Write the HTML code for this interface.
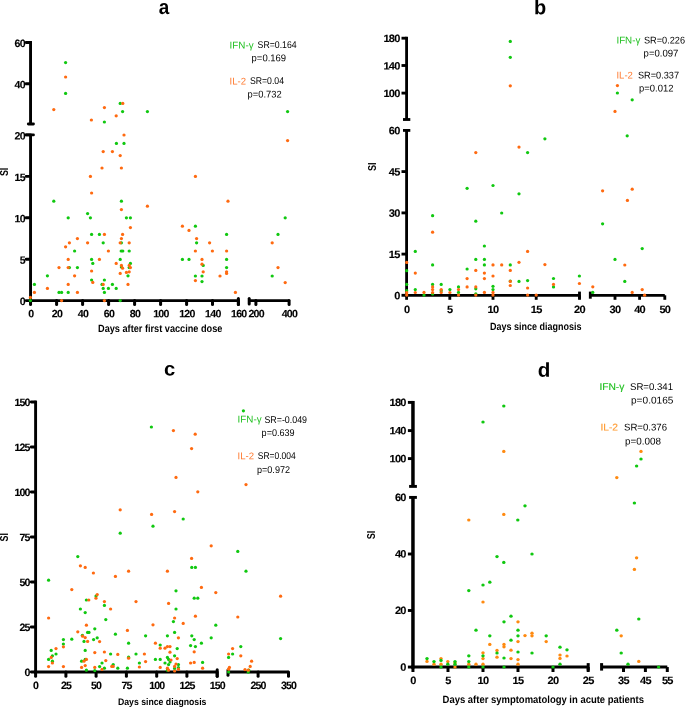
<!DOCTYPE html>
<html lang="en">
<head>
<meta charset="utf-8">
<title>SI scatter plots</title>
<style>
html,body{margin:0;padding:0;background:#fff;}
body{width:685px;height:707px;overflow:hidden;}
svg{display:block;}
svg text{font-family:"Liberation Sans",sans-serif;}
</style>
</head>
<body>
<svg width="685" height="707" viewBox="0 0 685 707">
<rect x="0" y="0" width="685" height="707" fill="#ffffff"/>
<g stroke="#000" fill="none">
<line x1="30.55" y1="41.05" x2="30.55" y2="124" stroke-width="2.9"/>
<line x1="30.55" y1="134.9" x2="30.55" y2="302" stroke-width="2.9"/>
<line x1="28.35" y1="124" x2="33.45" y2="124" stroke-width="2.9" stroke-linecap="round"/>
<line x1="26.15" y1="134.9" x2="33.45" y2="134.9" stroke-width="2.9" stroke-linecap="round"/>
<line x1="26.15" y1="42.5" x2="30.55" y2="42.5" stroke-width="2.9" stroke-linecap="round"/>
<line x1="26.15" y1="83.7" x2="30.55" y2="83.7" stroke-width="2.9" stroke-linecap="round"/>
<line x1="26.15" y1="134.9" x2="30.55" y2="134.9" stroke-width="2.9" stroke-linecap="round"/>
<line x1="26.15" y1="176.4" x2="30.55" y2="176.4" stroke-width="2.9" stroke-linecap="round"/>
<line x1="26.15" y1="217.8" x2="30.55" y2="217.8" stroke-width="2.9" stroke-linecap="round"/>
<line x1="26.15" y1="259.2" x2="30.55" y2="259.2" stroke-width="2.9" stroke-linecap="round"/>
<line x1="26.15" y1="300.6" x2="30.55" y2="300.6" stroke-width="2.9" stroke-linecap="round"/>
<line x1="29.1" y1="300.6" x2="238.4" y2="300.6" stroke-width="2.8"/>
<line x1="249.2" y1="300.6" x2="289.1" y2="300.6" stroke-width="2.8"/>
<line x1="238.4" y1="298.4" x2="238.4" y2="304.6" stroke-width="3" stroke-linecap="round"/>
<line x1="249.2" y1="298.4" x2="249.2" y2="304" stroke-width="3" stroke-linecap="round"/>
<line x1="30.55" y1="300.6" x2="30.55" y2="304.5" stroke-width="3" stroke-linecap="round"/>
<line x1="56.6" y1="300.6" x2="56.6" y2="304.5" stroke-width="3" stroke-linecap="round"/>
<line x1="82.6" y1="300.6" x2="82.6" y2="304.5" stroke-width="3" stroke-linecap="round"/>
<line x1="108.6" y1="300.6" x2="108.6" y2="304.5" stroke-width="3" stroke-linecap="round"/>
<line x1="134.6" y1="300.6" x2="134.6" y2="304.5" stroke-width="3" stroke-linecap="round"/>
<line x1="160.6" y1="300.6" x2="160.6" y2="304.5" stroke-width="3" stroke-linecap="round"/>
<line x1="186.6" y1="300.6" x2="186.6" y2="304.5" stroke-width="3" stroke-linecap="round"/>
<line x1="212.5" y1="300.6" x2="212.5" y2="304.5" stroke-width="3" stroke-linecap="round"/>
<line x1="238.4" y1="300.6" x2="238.4" y2="304.5" stroke-width="3" stroke-linecap="round"/>
<line x1="255.9" y1="300.6" x2="255.9" y2="304.5" stroke-width="3" stroke-linecap="round"/>
<line x1="289.1" y1="300.6" x2="289.1" y2="304.5" stroke-width="3" stroke-linecap="round"/>
</g>
<g fill="#000">
<text transform="translate(14.55 47) rotate(0.03) scale(1.0 1)" font-size="10.6" font-weight="bold" letter-spacing="-0.74" stroke="#000" stroke-width="0.12">60</text>
<text transform="translate(14.55 88.2) rotate(0.03) scale(1.0 1)" font-size="10.6" font-weight="bold" letter-spacing="-0.74" stroke="#000" stroke-width="0.12">40</text>
<text transform="translate(14.55 139.4) rotate(0.03) scale(1.0 1)" font-size="10.6" font-weight="bold" letter-spacing="-0.74" stroke="#000" stroke-width="0.12">20</text>
<text transform="translate(14.55 180.9) rotate(0.03) scale(1.0 1)" font-size="10.6" font-weight="bold" letter-spacing="-0.74" stroke="#000" stroke-width="0.12">15</text>
<text transform="translate(14.55 222.3) rotate(0.03) scale(1.0 1)" font-size="10.6" font-weight="bold" letter-spacing="-0.74" stroke="#000" stroke-width="0.12">10</text>
<text transform="translate(19.7 263.7) rotate(0.03) scale(1.0 1)" font-size="10.6" font-weight="bold" letter-spacing="-0.74" stroke="#000" stroke-width="0.12">5</text>
<text transform="translate(19.7 305.1) rotate(0.03) scale(1.0 1)" font-size="10.6" font-weight="bold" letter-spacing="-0.74" stroke="#000" stroke-width="0.12">0</text>
<text transform="translate(28.28 317.3) rotate(0.03) scale(1.0 1)" font-size="10.6" font-weight="bold" letter-spacing="-0.74" stroke="#000" stroke-width="0.12">0</text>
<text transform="translate(51.75 317.3) rotate(0.03) scale(1.0 1)" font-size="10.6" font-weight="bold" letter-spacing="-0.74" stroke="#000" stroke-width="0.12">20</text>
<text transform="translate(77.75 317.3) rotate(0.03) scale(1.0 1)" font-size="10.6" font-weight="bold" letter-spacing="-0.74" stroke="#000" stroke-width="0.12">40</text>
<text transform="translate(103.75 317.3) rotate(0.03) scale(1.0 1)" font-size="10.6" font-weight="bold" letter-spacing="-0.74" stroke="#000" stroke-width="0.12">60</text>
<text transform="translate(129.75 317.3) rotate(0.03) scale(1.0 1)" font-size="10.6" font-weight="bold" letter-spacing="-0.74" stroke="#000" stroke-width="0.12">80</text>
<text transform="translate(153.18 317.3) rotate(0.03) scale(1.0 1)" font-size="10.6" font-weight="bold" letter-spacing="-0.74" stroke="#000" stroke-width="0.12">100</text>
<text transform="translate(179.18 317.3) rotate(0.03) scale(1.0 1)" font-size="10.6" font-weight="bold" letter-spacing="-0.74" stroke="#000" stroke-width="0.12">120</text>
<text transform="translate(205.08 317.3) rotate(0.03) scale(1.0 1)" font-size="10.6" font-weight="bold" letter-spacing="-0.74" stroke="#000" stroke-width="0.12">140</text>
<text transform="translate(230.98 317.3) rotate(0.03) scale(1.0 1)" font-size="10.6" font-weight="bold" letter-spacing="-0.74" stroke="#000" stroke-width="0.12">160</text>
<text transform="translate(248.47 317.3) rotate(0.03) scale(1.0 1)" font-size="10.6" font-weight="bold" letter-spacing="-0.74" stroke="#000" stroke-width="0.12">200</text>
<text transform="translate(281.68 317.3) rotate(0.03) scale(1.0 1)" font-size="10.6" font-weight="bold" letter-spacing="-0.74" stroke="#000" stroke-width="0.12">400</text>
</g>
<text transform="translate(164 14.4) rotate(0.03)" font-size="20.5" text-anchor="middle" font-weight="bold" textLength="10.5" lengthAdjust="spacingAndGlyphs">a</text>
<text transform="translate(7.8 171.9) rotate(-90)" font-size="10.2" text-anchor="middle" font-weight="bold" textLength="8.4" lengthAdjust="spacingAndGlyphs">SI</text>
<text transform="translate(160.2 332.2) rotate(0.03)" font-size="10.5" text-anchor="middle" font-weight="bold" textLength="124.4" lengthAdjust="spacingAndGlyphs">Days after first vaccine dose</text>
<text transform="translate(229.6 48.4) rotate(0.03)" font-size="9.8" fill="#22c022" textLength="24" lengthAdjust="spacingAndGlyphs">IFN-γ</text>
<text transform="translate(257.6 48.4) rotate(0.03)" font-size="9.8" textLength="39" lengthAdjust="spacingAndGlyphs">SR=0.164</text>
<text transform="translate(251.6 61.2) rotate(0.03)" font-size="9.8" textLength="34.5" lengthAdjust="spacingAndGlyphs">p=0.169</text>
<text transform="translate(229.6 84.4) rotate(0.03)" font-size="9.8" fill="#ff7a30" textLength="16.5" lengthAdjust="spacingAndGlyphs">IL-2</text>
<text transform="translate(250 84.4) rotate(0.03)" font-size="9.8" textLength="34" lengthAdjust="spacingAndGlyphs">SR=0.04</text>
<text transform="translate(247.6 97.4) rotate(0.03)" font-size="9.8" textLength="34" lengthAdjust="spacingAndGlyphs">p=0.732</text>
<g fill="#10c810">
<circle cx="65.6" cy="62.6" r="1.62"/>
<circle cx="65.6" cy="93.4" r="1.62"/>
<circle cx="104.4" cy="122" r="1.62"/>
<circle cx="120.2" cy="103.4" r="1.62"/>
<circle cx="122.6" cy="111.6" r="1.62"/>
<circle cx="147.4" cy="111.6" r="1.62"/>
<circle cx="287.6" cy="111.6" r="1.62"/>
<circle cx="116.4" cy="143.4" r="1.62"/>
<circle cx="124" cy="143.4" r="1.62"/>
<circle cx="53.8" cy="201.2" r="1.62"/>
<circle cx="121.4" cy="201.2" r="1.62"/>
<circle cx="87.6" cy="213.6" r="1.62"/>
<circle cx="68.2" cy="217.8" r="1.62"/>
<circle cx="90.4" cy="217.8" r="1.62"/>
<circle cx="126.4" cy="217.8" r="1.62"/>
<circle cx="130.4" cy="217.8" r="1.62"/>
<circle cx="91.6" cy="234.4" r="1.62"/>
<circle cx="99.4" cy="234.4" r="1.62"/>
<circle cx="103.2" cy="242.8" r="1.62"/>
<circle cx="121.4" cy="242.8" r="1.62"/>
<circle cx="74.6" cy="251" r="1.62"/>
<circle cx="121.2" cy="251" r="1.62"/>
<circle cx="122.8" cy="251" r="1.62"/>
<circle cx="129.2" cy="251" r="1.62"/>
<circle cx="91.6" cy="259.4" r="1.62"/>
<circle cx="120.2" cy="259.4" r="1.62"/>
<circle cx="92.8" cy="263.4" r="1.62"/>
<circle cx="130.4" cy="263.4" r="1.62"/>
<circle cx="69.4" cy="267.6" r="1.62"/>
<circle cx="77.4" cy="267.6" r="1.62"/>
<circle cx="121.4" cy="267" r="1.62"/>
<circle cx="129.2" cy="267.6" r="1.62"/>
<circle cx="47.4" cy="275.8" r="1.62"/>
<circle cx="128" cy="275.8" r="1.62"/>
<circle cx="91.6" cy="280" r="1.62"/>
<circle cx="104.4" cy="280" r="1.62"/>
<circle cx="195.4" cy="226.2" r="1.62"/>
<circle cx="226.6" cy="234.4" r="1.62"/>
<circle cx="196.6" cy="242.8" r="1.62"/>
<circle cx="182.4" cy="259.4" r="1.62"/>
<circle cx="189" cy="259.4" r="1.62"/>
<circle cx="226.6" cy="259.4" r="1.62"/>
<circle cx="203.2" cy="265.4" r="1.62"/>
<circle cx="226.6" cy="267.6" r="1.62"/>
<circle cx="195.4" cy="276" r="1.62"/>
<circle cx="202" cy="276" r="1.62"/>
<circle cx="272.2" cy="276" r="1.62"/>
<circle cx="202" cy="281.6" r="1.62"/>
<circle cx="285.2" cy="217.8" r="1.62"/>
<circle cx="278" cy="234.4" r="1.62"/>
<circle cx="34.4" cy="284.4" r="1.62"/>
<circle cx="102" cy="284.4" r="1.62"/>
<circle cx="112.4" cy="284.4" r="1.62"/>
<circle cx="103.2" cy="288.4" r="1.62"/>
<circle cx="108.4" cy="288.4" r="1.62"/>
<circle cx="116.2" cy="288.4" r="1.62"/>
<circle cx="59" cy="292.4" r="1.62"/>
<circle cx="61.6" cy="292.4" r="1.62"/>
<circle cx="68.2" cy="292.4" r="1.62"/>
<circle cx="104.4" cy="292.4" r="1.62"/>
<circle cx="30.4" cy="300.6" r="1.62"/>
<circle cx="120.2" cy="300.6" r="1.62"/>
</g>
<g fill="#ff6a10">
<circle cx="65.6" cy="77" r="1.62"/>
<circle cx="53.8" cy="109.6" r="1.62"/>
<circle cx="104.4" cy="107.6" r="1.62"/>
<circle cx="91.4" cy="120" r="1.62"/>
<circle cx="116.2" cy="115.8" r="1.62"/>
<circle cx="122.8" cy="103.4" r="1.62"/>
<circle cx="124" cy="135" r="1.62"/>
<circle cx="287.6" cy="140.6" r="1.62"/>
<circle cx="103.2" cy="151.6" r="1.62"/>
<circle cx="112.4" cy="151.6" r="1.62"/>
<circle cx="120.2" cy="155.6" r="1.62"/>
<circle cx="102" cy="168" r="1.62"/>
<circle cx="121.4" cy="168" r="1.62"/>
<circle cx="90.4" cy="176.4" r="1.62"/>
<circle cx="91.6" cy="193" r="1.62"/>
<circle cx="121.4" cy="209.6" r="1.62"/>
<circle cx="130.4" cy="227.6" r="1.62"/>
<circle cx="104.4" cy="234.4" r="1.62"/>
<circle cx="122.6" cy="234.4" r="1.62"/>
<circle cx="77.4" cy="238.6" r="1.62"/>
<circle cx="121.4" cy="238.6" r="1.62"/>
<circle cx="69.4" cy="242.8" r="1.62"/>
<circle cx="87.6" cy="242.8" r="1.62"/>
<circle cx="120.2" cy="242.8" r="1.62"/>
<circle cx="129.2" cy="242.8" r="1.62"/>
<circle cx="65.6" cy="246.8" r="1.62"/>
<circle cx="108.4" cy="251" r="1.62"/>
<circle cx="68.2" cy="259.4" r="1.62"/>
<circle cx="99.4" cy="259.4" r="1.62"/>
<circle cx="116.2" cy="263.4" r="1.62"/>
<circle cx="121.4" cy="265.4" r="1.62"/>
<circle cx="129.2" cy="265.4" r="1.62"/>
<circle cx="59" cy="267.6" r="1.62"/>
<circle cx="68.2" cy="267.6" r="1.62"/>
<circle cx="122.6" cy="268.2" r="1.62"/>
<circle cx="130.4" cy="267.6" r="1.62"/>
<circle cx="91.6" cy="271" r="1.62"/>
<circle cx="126.4" cy="272.4" r="1.62"/>
<circle cx="129.2" cy="271.8" r="1.62"/>
<circle cx="120.2" cy="273.4" r="1.62"/>
<circle cx="74.6" cy="275.8" r="1.62"/>
<circle cx="92.8" cy="282.4" r="1.62"/>
<circle cx="195.4" cy="176.4" r="1.62"/>
<circle cx="228" cy="201.2" r="1.62"/>
<circle cx="147.4" cy="206.2" r="1.62"/>
<circle cx="182.4" cy="226.2" r="1.62"/>
<circle cx="189" cy="230.4" r="1.62"/>
<circle cx="196.6" cy="238.6" r="1.62"/>
<circle cx="209.6" cy="242.8" r="1.62"/>
<circle cx="272.2" cy="242.8" r="1.62"/>
<circle cx="195.4" cy="251" r="1.62"/>
<circle cx="212.4" cy="251" r="1.62"/>
<circle cx="226.6" cy="251" r="1.62"/>
<circle cx="202" cy="259.4" r="1.62"/>
<circle cx="202" cy="264.2" r="1.62"/>
<circle cx="203.2" cy="271.8" r="1.62"/>
<circle cx="226.6" cy="271.8" r="1.62"/>
<circle cx="226.6" cy="273.4" r="1.62"/>
<circle cx="220" cy="276" r="1.62"/>
<circle cx="195.4" cy="280.6" r="1.62"/>
<circle cx="278" cy="267.6" r="1.62"/>
<circle cx="285.2" cy="282.6" r="1.62"/>
<circle cx="68.2" cy="284.4" r="1.62"/>
<circle cx="103.2" cy="284.4" r="1.62"/>
<circle cx="128" cy="284.4" r="1.62"/>
<circle cx="47.4" cy="288.4" r="1.62"/>
<circle cx="34.4" cy="292.4" r="1.62"/>
<circle cx="77.4" cy="292.4" r="1.62"/>
<circle cx="30.4" cy="297.4" r="1.62"/>
<circle cx="61.6" cy="300.6" r="1.62"/>
<circle cx="104.4" cy="300.6" r="1.62"/>
<circle cx="235.4" cy="292.4" r="1.62"/>
</g>
<g stroke="#000" fill="none">
<line x1="406.6" y1="36.75" x2="406.6" y2="119.5" stroke-width="2.85"/>
<line x1="406.6" y1="130.4" x2="406.6" y2="296.7" stroke-width="2.85"/>
<line x1="403" y1="119.5" x2="410.3" y2="119.5" stroke-width="2.85"/>
<line x1="403" y1="130.4" x2="410.3" y2="130.4" stroke-width="2.85"/>
<line x1="401.5" y1="38.2" x2="406.6" y2="38.2" stroke-width="2.85"/>
<line x1="401.5" y1="65.5" x2="406.6" y2="65.5" stroke-width="2.85"/>
<line x1="401.5" y1="93.1" x2="406.6" y2="93.1" stroke-width="2.85"/>
<line x1="401.5" y1="171.6" x2="406.6" y2="171.6" stroke-width="2.85"/>
<line x1="401.5" y1="212.9" x2="406.6" y2="212.9" stroke-width="2.85"/>
<line x1="401.5" y1="254.1" x2="406.6" y2="254.1" stroke-width="2.85"/>
<line x1="401.5" y1="295.3" x2="406.6" y2="295.3" stroke-width="2.85"/>
<line x1="405.2" y1="295.3" x2="579.5" y2="295.3" stroke-width="2.85"/>
<line x1="590.3" y1="295.3" x2="664.8" y2="295.3" stroke-width="2.85"/>
<line x1="579.5" y1="291.6" x2="579.5" y2="298.7" stroke-width="2.85"/>
<line x1="590.3" y1="291.6" x2="590.3" y2="298.7" stroke-width="2.85"/>
<line x1="406.6" y1="295.3" x2="406.6" y2="299.8" stroke-width="2.85"/>
<line x1="449.8" y1="295.3" x2="449.8" y2="299.8" stroke-width="2.85"/>
<line x1="493" y1="295.3" x2="493" y2="299.8" stroke-width="2.85"/>
<line x1="536.2" y1="295.3" x2="536.2" y2="299.8" stroke-width="2.85"/>
<line x1="579.5" y1="295.3" x2="579.5" y2="299.8" stroke-width="2.85"/>
<line x1="615" y1="295.3" x2="615" y2="299.8" stroke-width="2.85"/>
<line x1="639.6" y1="295.3" x2="639.6" y2="299.8" stroke-width="2.85"/>
<line x1="664.8" y1="295.3" x2="664.8" y2="299.8" stroke-width="2.85"/>
</g>
<g fill="#000">
<text transform="translate(383.45 42.1) rotate(0.03) scale(1.04 1)" font-size="10.6" font-weight="bold" letter-spacing="-0.7" stroke="#000" stroke-width="0.12">180</text>
<text transform="translate(383.45 69.4) rotate(0.03) scale(1.04 1)" font-size="10.6" font-weight="bold" letter-spacing="-0.7" stroke="#000" stroke-width="0.12">140</text>
<text transform="translate(383.45 97) rotate(0.03) scale(1.04 1)" font-size="10.6" font-weight="bold" letter-spacing="-0.7" stroke="#000" stroke-width="0.12">100</text>
<text transform="translate(388.85 175.5) rotate(0.03) scale(1.04 1)" font-size="10.6" font-weight="bold" letter-spacing="-0.7" stroke="#000" stroke-width="0.12">45</text>
<text transform="translate(388.85 216.8) rotate(0.03) scale(1.04 1)" font-size="10.6" font-weight="bold" letter-spacing="-0.7" stroke="#000" stroke-width="0.12">30</text>
<text transform="translate(388.85 258) rotate(0.03) scale(1.04 1)" font-size="10.6" font-weight="bold" letter-spacing="-0.7" stroke="#000" stroke-width="0.12">15</text>
<text transform="translate(394.25 299.2) rotate(0.03) scale(1.04 1)" font-size="10.6" font-weight="bold" letter-spacing="-0.7" stroke="#000" stroke-width="0.12">0</text>
<text transform="translate(388.85 134.3) rotate(0.03) scale(1.04 1)" font-size="10.6" font-weight="bold" letter-spacing="-0.7" stroke="#000" stroke-width="0.12">60</text>
<text transform="translate(403.9 313) rotate(0.03) scale(1.04 1)" font-size="10.6" font-weight="bold" letter-spacing="-0.7" stroke="#000" stroke-width="0.12">0</text>
<text transform="translate(447.1 313) rotate(0.03) scale(1.04 1)" font-size="10.6" font-weight="bold" letter-spacing="-0.7" stroke="#000" stroke-width="0.12">5</text>
<text transform="translate(487.6 313) rotate(0.03) scale(1.04 1)" font-size="10.6" font-weight="bold" letter-spacing="-0.7" stroke="#000" stroke-width="0.12">10</text>
<text transform="translate(530.8 313) rotate(0.03) scale(1.04 1)" font-size="10.6" font-weight="bold" letter-spacing="-0.7" stroke="#000" stroke-width="0.12">15</text>
<text transform="translate(574.1 313) rotate(0.03) scale(1.04 1)" font-size="10.6" font-weight="bold" letter-spacing="-0.7" stroke="#000" stroke-width="0.12">20</text>
<text transform="translate(609.6 313) rotate(0.03) scale(1.04 1)" font-size="10.6" font-weight="bold" letter-spacing="-0.7" stroke="#000" stroke-width="0.12">30</text>
<text transform="translate(634.2 313) rotate(0.03) scale(1.04 1)" font-size="10.6" font-weight="bold" letter-spacing="-0.7" stroke="#000" stroke-width="0.12">40</text>
<text transform="translate(659.4 313) rotate(0.03) scale(1.04 1)" font-size="10.6" font-weight="bold" letter-spacing="-0.7" stroke="#000" stroke-width="0.12">50</text>
</g>
<text transform="translate(540 14.2) rotate(0.03)" font-size="20.5" text-anchor="middle" font-weight="bold" textLength="12.2" lengthAdjust="spacingAndGlyphs">b</text>
<text transform="translate(376.1 166.8) rotate(-90)" font-size="10.2" text-anchor="middle" font-weight="bold" textLength="8.6" lengthAdjust="spacingAndGlyphs">SI</text>
<text transform="translate(535.7 330.4) rotate(0.03)" font-size="10.5" text-anchor="middle" font-weight="bold" textLength="91.4" lengthAdjust="spacingAndGlyphs">Days since diagnosis</text>
<text transform="translate(616.4 43.6) rotate(0.03)" font-size="9.8" fill="#22c022" textLength="24" lengthAdjust="spacingAndGlyphs">IFN-γ</text>
<text transform="translate(644 43.6) rotate(0.03)" font-size="9.8" textLength="41" lengthAdjust="spacingAndGlyphs">SR=0.226</text>
<text transform="translate(643.6 56.6) rotate(0.03)" font-size="9.8" textLength="34.8" lengthAdjust="spacingAndGlyphs">p=0.097</text>
<text transform="translate(616.4 78.4) rotate(0.03)" font-size="9.8" fill="#ff7a30" textLength="16.5" lengthAdjust="spacingAndGlyphs">IL-2</text>
<text transform="translate(638 78.4) rotate(0.03)" font-size="9.8" textLength="41" lengthAdjust="spacingAndGlyphs">SR=0.337</text>
<text transform="translate(639 91.6) rotate(0.03)" font-size="9.8" textLength="34.4" lengthAdjust="spacingAndGlyphs">p=0.012</text>
<g fill="#10c810">
<circle cx="406.7" cy="270.7" r="1.62"/>
<circle cx="406.7" cy="284.4" r="1.62"/>
<circle cx="406.7" cy="290.7" r="1.62"/>
<circle cx="415.3" cy="251.4" r="1.62"/>
<circle cx="415.3" cy="289.6" r="1.62"/>
<circle cx="424" cy="295.1" r="1.62"/>
<circle cx="432.6" cy="215.7" r="1.62"/>
<circle cx="432.6" cy="264.9" r="1.62"/>
<circle cx="432.6" cy="284.4" r="1.62"/>
<circle cx="432.6" cy="294" r="1.62"/>
<circle cx="441.2" cy="284.4" r="1.62"/>
<circle cx="441.2" cy="290.7" r="1.62"/>
<circle cx="449.9" cy="289.6" r="1.62"/>
<circle cx="458.5" cy="286.9" r="1.62"/>
<circle cx="458.5" cy="292.4" r="1.62"/>
<circle cx="467.1" cy="188.3" r="1.62"/>
<circle cx="467.1" cy="269" r="1.62"/>
<circle cx="475.8" cy="221.2" r="1.62"/>
<circle cx="475.8" cy="259.4" r="1.62"/>
<circle cx="475.8" cy="288.8" r="1.62"/>
<circle cx="475.8" cy="293.8" r="1.62"/>
<circle cx="484.4" cy="246" r="1.62"/>
<circle cx="484.4" cy="259.4" r="1.62"/>
<circle cx="484.4" cy="264.9" r="1.62"/>
<circle cx="493" cy="185.5" r="1.62"/>
<circle cx="493" cy="286.3" r="1.62"/>
<circle cx="493" cy="289.6" r="1.62"/>
<circle cx="501.7" cy="213" r="1.62"/>
<circle cx="510.3" cy="41.4" r="1.62"/>
<circle cx="510.3" cy="57.3" r="1.62"/>
<circle cx="510.3" cy="264.9" r="1.62"/>
<circle cx="510.3" cy="281.1" r="1.62"/>
<circle cx="519" cy="193.8" r="1.62"/>
<circle cx="519" cy="281.4" r="1.62"/>
<circle cx="527.6" cy="152.6" r="1.62"/>
<circle cx="527.6" cy="280.6" r="1.62"/>
<circle cx="544.9" cy="138.8" r="1.62"/>
<circle cx="553.5" cy="278.5" r="1.62"/>
<circle cx="553.5" cy="286.9" r="1.62"/>
<circle cx="579.4" cy="276" r="1.62"/>
<circle cx="617.4" cy="93" r="1.62"/>
<circle cx="632.2" cy="99.8" r="1.62"/>
<circle cx="627.2" cy="135.8" r="1.62"/>
<circle cx="602.6" cy="223.8" r="1.62"/>
<circle cx="642.2" cy="248.6" r="1.62"/>
<circle cx="615" cy="259.4" r="1.62"/>
<circle cx="624.8" cy="281.4" r="1.62"/>
<circle cx="592.8" cy="292.4" r="1.62"/>
</g>
<g fill="#ff6a10">
<circle cx="406.7" cy="262.4" r="1.62"/>
<circle cx="406.7" cy="292.7" r="1.62"/>
<circle cx="406.7" cy="295.1" r="1.62"/>
<circle cx="415.3" cy="273.1" r="1.62"/>
<circle cx="415.3" cy="292.5" r="1.62"/>
<circle cx="424" cy="292.4" r="1.62"/>
<circle cx="432.6" cy="232.2" r="1.62"/>
<circle cx="432.6" cy="286.9" r="1.62"/>
<circle cx="432.6" cy="289.6" r="1.62"/>
<circle cx="432.6" cy="292.5" r="1.62"/>
<circle cx="441.2" cy="289.5" r="1.62"/>
<circle cx="441.2" cy="292.5" r="1.62"/>
<circle cx="449.9" cy="292.5" r="1.62"/>
<circle cx="458.5" cy="289.6" r="1.62"/>
<circle cx="458.5" cy="295.1" r="1.62"/>
<circle cx="467.1" cy="278.6" r="1.62"/>
<circle cx="467.1" cy="286.9" r="1.62"/>
<circle cx="475.8" cy="152.6" r="1.62"/>
<circle cx="475.8" cy="270.4" r="1.62"/>
<circle cx="475.8" cy="286.9" r="1.62"/>
<circle cx="475.8" cy="295.1" r="1.62"/>
<circle cx="484.4" cy="273.1" r="1.62"/>
<circle cx="484.4" cy="278.6" r="1.62"/>
<circle cx="484.4" cy="292.4" r="1.62"/>
<circle cx="493" cy="264.9" r="1.62"/>
<circle cx="493" cy="276" r="1.62"/>
<circle cx="493" cy="292.4" r="1.62"/>
<circle cx="493" cy="295.1" r="1.62"/>
<circle cx="501.7" cy="264.9" r="1.62"/>
<circle cx="510.3" cy="85.8" r="1.62"/>
<circle cx="510.3" cy="270.4" r="1.62"/>
<circle cx="510.3" cy="281.4" r="1.62"/>
<circle cx="510.3" cy="285.5" r="1.62"/>
<circle cx="519" cy="147.1" r="1.62"/>
<circle cx="519" cy="262.3" r="1.62"/>
<circle cx="527.6" cy="251.4" r="1.62"/>
<circle cx="527.6" cy="288" r="1.62"/>
<circle cx="527.6" cy="295.1" r="1.62"/>
<circle cx="536.2" cy="295.1" r="1.62"/>
<circle cx="544.9" cy="264.6" r="1.62"/>
<circle cx="553.5" cy="284.4" r="1.62"/>
<circle cx="579.4" cy="283.5" r="1.62"/>
<circle cx="617.4" cy="85.6" r="1.62"/>
<circle cx="615" cy="111.4" r="1.62"/>
<circle cx="602.6" cy="190.8" r="1.62"/>
<circle cx="632.2" cy="189.2" r="1.62"/>
<circle cx="627.4" cy="200.4" r="1.62"/>
<circle cx="624.8" cy="265" r="1.62"/>
<circle cx="592.8" cy="286.8" r="1.62"/>
<circle cx="632.2" cy="292.4" r="1.62"/>
<circle cx="642.2" cy="289.6" r="1.62"/>
<circle cx="644.6" cy="295.2" r="1.62"/>
</g>
<g stroke="#000" fill="none">
<line x1="35.6" y1="400.65" x2="35.6" y2="673.45" stroke-width="2.9"/>
<line x1="31.25" y1="402" x2="35.6" y2="402" stroke-width="2.9" stroke-linecap="round"/>
<line x1="31.25" y1="447" x2="35.6" y2="447" stroke-width="2.9" stroke-linecap="round"/>
<line x1="31.25" y1="492" x2="35.6" y2="492" stroke-width="2.9" stroke-linecap="round"/>
<line x1="31.25" y1="537" x2="35.6" y2="537" stroke-width="2.9" stroke-linecap="round"/>
<line x1="31.25" y1="582" x2="35.6" y2="582" stroke-width="2.9" stroke-linecap="round"/>
<line x1="31.25" y1="627" x2="35.6" y2="627" stroke-width="2.9" stroke-linecap="round"/>
<line x1="31.25" y1="672" x2="35.6" y2="672" stroke-width="2.9" stroke-linecap="round"/>
<line x1="34.15" y1="672" x2="217.2" y2="672" stroke-width="2.9"/>
<line x1="228" y1="672" x2="288.5" y2="672" stroke-width="2.9"/>
<line x1="217.2" y1="669.7" x2="217.2" y2="676.2" stroke-width="3" stroke-linecap="round"/>
<line x1="228" y1="670.1" x2="228" y2="675.3" stroke-width="3" stroke-linecap="round"/>
<line x1="35.6" y1="672" x2="35.6" y2="676.2" stroke-width="3" stroke-linecap="round"/>
<line x1="65.9" y1="672" x2="65.9" y2="676.2" stroke-width="3" stroke-linecap="round"/>
<line x1="96.1" y1="672" x2="96.1" y2="676.2" stroke-width="3" stroke-linecap="round"/>
<line x1="126.4" y1="672" x2="126.4" y2="676.2" stroke-width="3" stroke-linecap="round"/>
<line x1="156.7" y1="672" x2="156.7" y2="676.2" stroke-width="3" stroke-linecap="round"/>
<line x1="186.9" y1="672" x2="186.9" y2="676.2" stroke-width="3" stroke-linecap="round"/>
<line x1="217.2" y1="672" x2="217.2" y2="676.2" stroke-width="3" stroke-linecap="round"/>
<line x1="258.1" y1="672" x2="258.1" y2="676.2" stroke-width="3" stroke-linecap="round"/>
<line x1="288.5" y1="672" x2="288.5" y2="676.2" stroke-width="3" stroke-linecap="round"/>
</g>
<g fill="#000">
<text transform="translate(14.55 406) rotate(0.03) scale(1.0 1)" font-size="10.6" font-weight="bold" letter-spacing="-0.89" stroke="#000" stroke-width="0.12">150</text>
<text transform="translate(14.55 451) rotate(0.03) scale(1.0 1)" font-size="10.6" font-weight="bold" letter-spacing="-0.89" stroke="#000" stroke-width="0.12">125</text>
<text transform="translate(14.55 496) rotate(0.03) scale(1.0 1)" font-size="10.6" font-weight="bold" letter-spacing="-0.89" stroke="#000" stroke-width="0.12">100</text>
<text transform="translate(19.55 541) rotate(0.03) scale(1.0 1)" font-size="10.6" font-weight="bold" letter-spacing="-0.89" stroke="#000" stroke-width="0.12">75</text>
<text transform="translate(19.55 586) rotate(0.03) scale(1.0 1)" font-size="10.6" font-weight="bold" letter-spacing="-0.89" stroke="#000" stroke-width="0.12">50</text>
<text transform="translate(19.55 631) rotate(0.03) scale(1.0 1)" font-size="10.6" font-weight="bold" letter-spacing="-0.89" stroke="#000" stroke-width="0.12">25</text>
<text transform="translate(24.55 676) rotate(0.03) scale(1.0 1)" font-size="10.6" font-weight="bold" letter-spacing="-0.89" stroke="#000" stroke-width="0.12">0</text>
<text transform="translate(33.1 689) rotate(0.03) scale(1.0 1)" font-size="10.6" font-weight="bold" letter-spacing="-0.89" stroke="#000" stroke-width="0.12">0</text>
<text transform="translate(60.9 689) rotate(0.03) scale(1.0 1)" font-size="10.6" font-weight="bold" letter-spacing="-0.89" stroke="#000" stroke-width="0.12">25</text>
<text transform="translate(91.1 689) rotate(0.03) scale(1.0 1)" font-size="10.6" font-weight="bold" letter-spacing="-0.89" stroke="#000" stroke-width="0.12">50</text>
<text transform="translate(121.4 689) rotate(0.03) scale(1.0 1)" font-size="10.6" font-weight="bold" letter-spacing="-0.89" stroke="#000" stroke-width="0.12">75</text>
<text transform="translate(149.2 689) rotate(0.03) scale(1.0 1)" font-size="10.6" font-weight="bold" letter-spacing="-0.89" stroke="#000" stroke-width="0.12">100</text>
<text transform="translate(179.4 689) rotate(0.03) scale(1.0 1)" font-size="10.6" font-weight="bold" letter-spacing="-0.89" stroke="#000" stroke-width="0.12">125</text>
<text transform="translate(209.7 689) rotate(0.03) scale(1.0 1)" font-size="10.6" font-weight="bold" letter-spacing="-0.89" stroke="#000" stroke-width="0.12">150</text>
<text transform="translate(250.6 689) rotate(0.03) scale(1.0 1)" font-size="10.6" font-weight="bold" letter-spacing="-0.89" stroke="#000" stroke-width="0.12">250</text>
<text transform="translate(281 689) rotate(0.03) scale(1.0 1)" font-size="10.6" font-weight="bold" letter-spacing="-0.89" stroke="#000" stroke-width="0.12">350</text>
</g>
<text transform="translate(169.5 375.4) rotate(0.03)" font-size="19.6" text-anchor="middle" font-weight="bold" textLength="11.2" lengthAdjust="spacingAndGlyphs">c</text>
<text transform="translate(7.8 537.2) rotate(-90)" font-size="10.2" text-anchor="middle" font-weight="bold" textLength="8.4" lengthAdjust="spacingAndGlyphs">SI</text>
<text transform="translate(162.2 704.7) rotate(0.03)" font-size="9.6" text-anchor="middle" font-weight="bold" textLength="88.4" lengthAdjust="spacingAndGlyphs">Days since diagnosis</text>
<text transform="translate(237.6 422.5) rotate(0.03)" font-size="9.8" fill="#22c022" textLength="24" lengthAdjust="spacingAndGlyphs">IFN-γ</text>
<text transform="translate(264.4 422.5) rotate(0.03)" font-size="9.8" textLength="42.6" lengthAdjust="spacingAndGlyphs">SR=-0.049</text>
<text transform="translate(261.6 436) rotate(0.03)" font-size="9.8" textLength="33" lengthAdjust="spacingAndGlyphs">p=0.639</text>
<text transform="translate(237.6 459.3) rotate(0.03)" font-size="9.8" fill="#ff7a30" textLength="16.5" lengthAdjust="spacingAndGlyphs">IL-2</text>
<text transform="translate(257.8 459.3) rotate(0.03)" font-size="9.8" textLength="37.8" lengthAdjust="spacingAndGlyphs">SR=0.004</text>
<text transform="translate(257 472.6) rotate(0.03)" font-size="9.8" textLength="33" lengthAdjust="spacingAndGlyphs">p=0.972</text>
<g fill="#10c810">
<circle cx="243.4" cy="410.8" r="1.62"/>
<circle cx="120.2" cy="533.2" r="1.62"/>
<circle cx="77.8" cy="556.6" r="1.62"/>
<circle cx="151.4" cy="427" r="1.62"/>
<circle cx="183.2" cy="519" r="1.62"/>
<circle cx="153" cy="526.2" r="1.62"/>
<circle cx="237.8" cy="551.4" r="1.62"/>
<circle cx="48.6" cy="580.2" r="1.62"/>
<circle cx="86.4" cy="600" r="1.62"/>
<circle cx="96" cy="596" r="1.62"/>
<circle cx="104.4" cy="605.4" r="1.62"/>
<circle cx="80.4" cy="609" r="1.62"/>
<circle cx="85.2" cy="612.6" r="1.62"/>
<circle cx="105.8" cy="619.6" r="1.62"/>
<circle cx="94.8" cy="628.8" r="1.62"/>
<circle cx="87.6" cy="632.4" r="1.62"/>
<circle cx="115.4" cy="634.2" r="1.62"/>
<circle cx="63.4" cy="639.6" r="1.62"/>
<circle cx="71.8" cy="639.2" r="1.62"/>
<circle cx="93.6" cy="639.6" r="1.62"/>
<circle cx="97.2" cy="637.8" r="1.62"/>
<circle cx="84" cy="641.4" r="1.62"/>
<circle cx="63.4" cy="644" r="1.62"/>
<circle cx="128.6" cy="643.2" r="1.62"/>
<circle cx="51.2" cy="650.4" r="1.62"/>
<circle cx="85.2" cy="650.4" r="1.62"/>
<circle cx="56" cy="654" r="1.62"/>
<circle cx="52.4" cy="655.8" r="1.62"/>
<circle cx="110.6" cy="654" r="1.62"/>
<circle cx="136" cy="654" r="1.62"/>
<circle cx="128.6" cy="657.2" r="1.62"/>
<circle cx="48.6" cy="659.4" r="1.62"/>
<circle cx="52.4" cy="661.2" r="1.62"/>
<circle cx="81.6" cy="661.2" r="1.62"/>
<circle cx="85.2" cy="659.4" r="1.62"/>
<circle cx="102" cy="663" r="1.62"/>
<circle cx="113.2" cy="664.6" r="1.62"/>
<circle cx="99.6" cy="666.6" r="1.62"/>
<circle cx="104.4" cy="668.2" r="1.62"/>
<circle cx="117.8" cy="668.2" r="1.62"/>
<circle cx="127.4" cy="668.2" r="1.62"/>
<circle cx="86.4" cy="670.2" r="1.62"/>
<circle cx="94.8" cy="670.6" r="1.62"/>
<circle cx="191.8" cy="567.4" r="1.62"/>
<circle cx="195.4" cy="567.4" r="1.62"/>
<circle cx="246" cy="571.2" r="1.62"/>
<circle cx="176" cy="590.8" r="1.62"/>
<circle cx="194.2" cy="598.2" r="1.62"/>
<circle cx="197.8" cy="598.2" r="1.62"/>
<circle cx="176" cy="609" r="1.62"/>
<circle cx="173.4" cy="621.6" r="1.62"/>
<circle cx="215.8" cy="625.2" r="1.62"/>
<circle cx="174.6" cy="632.4" r="1.62"/>
<circle cx="145.6" cy="635.8" r="1.62"/>
<circle cx="167.4" cy="635.8" r="1.62"/>
<circle cx="191.8" cy="635.8" r="1.62"/>
<circle cx="211.2" cy="637.8" r="1.62"/>
<circle cx="194.2" cy="639.6" r="1.62"/>
<circle cx="201.4" cy="643.2" r="1.62"/>
<circle cx="160.2" cy="645" r="1.62"/>
<circle cx="190.6" cy="645.6" r="1.62"/>
<circle cx="195.4" cy="646.6" r="1.62"/>
<circle cx="240.8" cy="646.6" r="1.62"/>
<circle cx="177.2" cy="648.6" r="1.62"/>
<circle cx="232.6" cy="654" r="1.62"/>
<circle cx="174.6" cy="655.8" r="1.62"/>
<circle cx="167.4" cy="657.4" r="1.62"/>
<circle cx="228.6" cy="657.4" r="1.62"/>
<circle cx="155.4" cy="659.4" r="1.62"/>
<circle cx="160.2" cy="659.4" r="1.62"/>
<circle cx="168.6" cy="659.4" r="1.62"/>
<circle cx="170" cy="662" r="1.62"/>
<circle cx="139.4" cy="663" r="1.62"/>
<circle cx="165" cy="663" r="1.62"/>
<circle cx="202.6" cy="662.4" r="1.62"/>
<circle cx="178.4" cy="664.6" r="1.62"/>
<circle cx="168.6" cy="664.6" r="1.62"/>
<circle cx="248.8" cy="670.2" r="1.62"/>
<circle cx="228.6" cy="672" r="1.62"/>
<circle cx="167.4" cy="670.2" r="1.62"/>
<circle cx="174.6" cy="668.4" r="1.62"/>
<circle cx="280.6" cy="638.6" r="1.62"/>
<circle cx="89" cy="632.4" r="1.62"/>
<circle cx="82.4" cy="635.3" r="1.62"/>
<circle cx="178.4" cy="667.5" r="1.62"/>
<circle cx="248.2" cy="672.1" r="1.62"/>
</g>
<g fill="#ff6a10">
<circle cx="120.2" cy="509.8" r="1.62"/>
<circle cx="173.4" cy="430.6" r="1.62"/>
<circle cx="195.2" cy="434.2" r="1.62"/>
<circle cx="191.6" cy="448.6" r="1.62"/>
<circle cx="176" cy="477.4" r="1.62"/>
<circle cx="246" cy="484.6" r="1.62"/>
<circle cx="197.8" cy="491.8" r="1.62"/>
<circle cx="174.6" cy="511.6" r="1.62"/>
<circle cx="151.6" cy="514.4" r="1.62"/>
<circle cx="211.2" cy="545.8" r="1.62"/>
<circle cx="191.6" cy="558.4" r="1.62"/>
<circle cx="80.4" cy="565.8" r="1.62"/>
<circle cx="85.2" cy="567.4" r="1.62"/>
<circle cx="93.4" cy="573" r="1.62"/>
<circle cx="115.4" cy="576.4" r="1.62"/>
<circle cx="128.6" cy="571.2" r="1.62"/>
<circle cx="71.8" cy="589.6" r="1.62"/>
<circle cx="97.2" cy="594.6" r="1.62"/>
<circle cx="96" cy="598.2" r="1.62"/>
<circle cx="88.8" cy="600" r="1.62"/>
<circle cx="104.4" cy="601.6" r="1.62"/>
<circle cx="136" cy="601.6" r="1.62"/>
<circle cx="110.6" cy="609" r="1.62"/>
<circle cx="48.6" cy="618" r="1.62"/>
<circle cx="86.4" cy="625.2" r="1.62"/>
<circle cx="77.8" cy="631.8" r="1.62"/>
<circle cx="127.4" cy="630.4" r="1.62"/>
<circle cx="82.6" cy="636.2" r="1.62"/>
<circle cx="85.2" cy="637.6" r="1.62"/>
<circle cx="87.6" cy="641.4" r="1.62"/>
<circle cx="99.6" cy="641.6" r="1.62"/>
<circle cx="56" cy="648.6" r="1.62"/>
<circle cx="63.4" cy="646.8" r="1.62"/>
<circle cx="94.8" cy="652.6" r="1.62"/>
<circle cx="104.4" cy="652" r="1.62"/>
<circle cx="117.8" cy="654.4" r="1.62"/>
<circle cx="51.2" cy="657.4" r="1.62"/>
<circle cx="128.6" cy="658.2" r="1.62"/>
<circle cx="86.4" cy="659.4" r="1.62"/>
<circle cx="84" cy="661.2" r="1.62"/>
<circle cx="105.8" cy="660.6" r="1.62"/>
<circle cx="52.4" cy="663" r="1.62"/>
<circle cx="48.6" cy="666.6" r="1.62"/>
<circle cx="63.4" cy="666.6" r="1.62"/>
<circle cx="85.2" cy="665.6" r="1.62"/>
<circle cx="81.6" cy="667.4" r="1.62"/>
<circle cx="94.8" cy="667.4" r="1.62"/>
<circle cx="111.8" cy="666.4" r="1.62"/>
<circle cx="113.2" cy="666.4" r="1.62"/>
<circle cx="102" cy="669.4" r="1.62"/>
<circle cx="167.4" cy="571.2" r="1.62"/>
<circle cx="201.4" cy="587.4" r="1.62"/>
<circle cx="215.8" cy="592.6" r="1.62"/>
<circle cx="168.6" cy="603.4" r="1.62"/>
<circle cx="195.4" cy="616.2" r="1.62"/>
<circle cx="237.8" cy="617" r="1.62"/>
<circle cx="174.6" cy="618" r="1.62"/>
<circle cx="183.2" cy="623.4" r="1.62"/>
<circle cx="153" cy="624.8" r="1.62"/>
<circle cx="178.4" cy="637.8" r="1.62"/>
<circle cx="155.4" cy="643.2" r="1.62"/>
<circle cx="167.4" cy="646.6" r="1.62"/>
<circle cx="170" cy="646.6" r="1.62"/>
<circle cx="160.2" cy="648.2" r="1.62"/>
<circle cx="165" cy="648.2" r="1.62"/>
<circle cx="232.6" cy="648.6" r="1.62"/>
<circle cx="170" cy="652.2" r="1.62"/>
<circle cx="194.2" cy="651.8" r="1.62"/>
<circle cx="144.4" cy="654" r="1.62"/>
<circle cx="228.6" cy="654" r="1.62"/>
<circle cx="240.8" cy="655.8" r="1.62"/>
<circle cx="177.2" cy="658.6" r="1.62"/>
<circle cx="171" cy="660" r="1.62"/>
<circle cx="145.6" cy="661.6" r="1.62"/>
<circle cx="251.6" cy="661.2" r="1.62"/>
<circle cx="190.6" cy="663" r="1.62"/>
<circle cx="194.2" cy="662.4" r="1.62"/>
<circle cx="176" cy="664" r="1.62"/>
<circle cx="139.4" cy="667" r="1.62"/>
<circle cx="160.2" cy="667.4" r="1.62"/>
<circle cx="167.4" cy="668.2" r="1.62"/>
<circle cx="174.6" cy="666.4" r="1.62"/>
<circle cx="202.6" cy="668.2" r="1.62"/>
<circle cx="178.4" cy="669.2" r="1.62"/>
<circle cx="250.2" cy="666.4" r="1.62"/>
<circle cx="229.4" cy="667.4" r="1.62"/>
<circle cx="228.6" cy="669.2" r="1.62"/>
<circle cx="245" cy="669.6" r="1.62"/>
<circle cx="248.2" cy="670.2" r="1.62"/>
<circle cx="168.6" cy="670.2" r="1.62"/>
<circle cx="174.6" cy="671" r="1.62"/>
<circle cx="280.6" cy="596.2" r="1.62"/>
</g>
<g stroke="#000" fill="none">
<line x1="412.95" y1="400.95" x2="412.95" y2="486.4" stroke-width="3.5"/>
<line x1="412.95" y1="497.4" x2="412.95" y2="668.5" stroke-width="3.5"/>
<line x1="409.1" y1="486.4" x2="416.9" y2="486.4" stroke-width="2.9"/>
<line x1="409.1" y1="497.4" x2="416.9" y2="497.4" stroke-width="2.9"/>
<line x1="407.9" y1="402.4" x2="412.95" y2="402.4" stroke-width="2.9"/>
<line x1="407.9" y1="430.6" x2="412.95" y2="430.6" stroke-width="2.9"/>
<line x1="407.9" y1="458.6" x2="412.95" y2="458.6" stroke-width="2.9"/>
<line x1="407.9" y1="554" x2="412.95" y2="554" stroke-width="2.9"/>
<line x1="407.9" y1="610.5" x2="412.95" y2="610.5" stroke-width="2.9"/>
<line x1="407.9" y1="667.05" x2="412.95" y2="667.05" stroke-width="2.9"/>
<line x1="411.2" y1="667.05" x2="588.2" y2="667.05" stroke-width="2.9"/>
<line x1="601.6" y1="667.05" x2="667.3" y2="667.05" stroke-width="2.9"/>
<line x1="588.2" y1="663.1" x2="588.2" y2="670.6" stroke-width="3"/>
<line x1="601.6" y1="663.1" x2="601.6" y2="670.6" stroke-width="3"/>
<line x1="412.95" y1="667.05" x2="412.95" y2="672" stroke-width="3"/>
<line x1="448" y1="667.05" x2="448" y2="672" stroke-width="3"/>
<line x1="483" y1="667.05" x2="483" y2="672" stroke-width="3"/>
<line x1="518" y1="667.05" x2="518" y2="672" stroke-width="3"/>
<line x1="553" y1="667.05" x2="553" y2="672" stroke-width="3"/>
<line x1="588.2" y1="667.05" x2="588.2" y2="672" stroke-width="3"/>
<line x1="623.5" y1="667.05" x2="623.5" y2="672" stroke-width="3"/>
<line x1="645.4" y1="667.05" x2="645.4" y2="672" stroke-width="3"/>
<line x1="667.3" y1="667.05" x2="667.3" y2="672" stroke-width="3"/>
</g>
<g fill="#000">
<text transform="translate(389.55 406) rotate(0.03) scale(1.04 1)" font-size="10.6" font-weight="bold" letter-spacing="-0.7" stroke="#000" stroke-width="0.12">180</text>
<text transform="translate(389.55 434.2) rotate(0.03) scale(1.04 1)" font-size="10.6" font-weight="bold" letter-spacing="-0.7" stroke="#000" stroke-width="0.12">140</text>
<text transform="translate(389.55 462.2) rotate(0.03) scale(1.04 1)" font-size="10.6" font-weight="bold" letter-spacing="-0.7" stroke="#000" stroke-width="0.12">100</text>
<text transform="translate(394.95 557.6) rotate(0.03) scale(1.04 1)" font-size="10.6" font-weight="bold" letter-spacing="-0.7" stroke="#000" stroke-width="0.12">40</text>
<text transform="translate(394.95 614.1) rotate(0.03) scale(1.04 1)" font-size="10.6" font-weight="bold" letter-spacing="-0.7" stroke="#000" stroke-width="0.12">20</text>
<text transform="translate(400.35 670.65) rotate(0.03) scale(1.04 1)" font-size="10.6" font-weight="bold" letter-spacing="-0.7" stroke="#000" stroke-width="0.12">0</text>
<text transform="translate(394.95 501) rotate(0.03) scale(1.04 1)" font-size="10.6" font-weight="bold" letter-spacing="-0.7" stroke="#000" stroke-width="0.12">60</text>
<text transform="translate(410.25 684.1) rotate(0.03) scale(1.04 1)" font-size="10.6" font-weight="bold" letter-spacing="-0.7" stroke="#000" stroke-width="0.12">0</text>
<text transform="translate(445.3 684.1) rotate(0.03) scale(1.04 1)" font-size="10.6" font-weight="bold" letter-spacing="-0.7" stroke="#000" stroke-width="0.12">5</text>
<text transform="translate(477.6 684.1) rotate(0.03) scale(1.04 1)" font-size="10.6" font-weight="bold" letter-spacing="-0.7" stroke="#000" stroke-width="0.12">10</text>
<text transform="translate(512.6 684.1) rotate(0.03) scale(1.04 1)" font-size="10.6" font-weight="bold" letter-spacing="-0.7" stroke="#000" stroke-width="0.12">15</text>
<text transform="translate(547.6 684.1) rotate(0.03) scale(1.04 1)" font-size="10.6" font-weight="bold" letter-spacing="-0.7" stroke="#000" stroke-width="0.12">20</text>
<text transform="translate(582.8 684.1) rotate(0.03) scale(1.04 1)" font-size="10.6" font-weight="bold" letter-spacing="-0.7" stroke="#000" stroke-width="0.12">25</text>
<text transform="translate(618.1 684.1) rotate(0.03) scale(1.04 1)" font-size="10.6" font-weight="bold" letter-spacing="-0.7" stroke="#000" stroke-width="0.12">35</text>
<text transform="translate(640 684.1) rotate(0.03) scale(1.04 1)" font-size="10.6" font-weight="bold" letter-spacing="-0.7" stroke="#000" stroke-width="0.12">45</text>
<text transform="translate(661.9 684.1) rotate(0.03) scale(1.04 1)" font-size="10.6" font-weight="bold" letter-spacing="-0.7" stroke="#000" stroke-width="0.12">55</text>
</g>
<text transform="translate(544.1 376.8) rotate(0.03)" font-size="20" text-anchor="middle" font-weight="bold" textLength="12.6" lengthAdjust="spacingAndGlyphs">d</text>
<text transform="translate(374.7 535) rotate(-90)" font-size="10.2" text-anchor="middle" font-weight="bold" textLength="8.6" lengthAdjust="spacingAndGlyphs">SI</text>
<text transform="translate(543.3 703.4) rotate(0.03)" font-size="10.5" text-anchor="middle" font-weight="bold" textLength="201.4" lengthAdjust="spacingAndGlyphs">Days after symptomatology in acute patients</text>
<text transform="translate(599.4 390) rotate(0.03)" font-size="9.8" fill="#22c022" textLength="25" lengthAdjust="spacingAndGlyphs" stroke="#22c022" stroke-width="0.15">IFN-γ</text>
<text transform="translate(630 390) rotate(0.03)" font-size="9.8" textLength="43" lengthAdjust="spacingAndGlyphs">SR=0.341</text>
<text transform="translate(631 403.6) rotate(0.03)" font-size="9.8" textLength="42.4" lengthAdjust="spacingAndGlyphs">p=0.0165</text>
<text transform="translate(600.4 430.6) rotate(0.03)" font-size="9.8" fill="#ff9a30" textLength="17.6" lengthAdjust="spacingAndGlyphs" stroke="#ff9a30" stroke-width="0.15">IL-2</text>
<text transform="translate(624 430.6) rotate(0.03)" font-size="9.8" textLength="43" lengthAdjust="spacingAndGlyphs">SR=0.376</text>
<text transform="translate(625 444.4) rotate(0.03)" font-size="9.8" textLength="36" lengthAdjust="spacingAndGlyphs">p=0.008</text>
<g fill="#ff8a10">
<ellipse cx="503.8" cy="451.4" rx="1.7" ry="1.6"/>
<ellipse cx="503.8" cy="514.4" rx="1.7" ry="1.6"/>
<ellipse cx="468.8" cy="520" rx="1.7" ry="1.6"/>
<ellipse cx="641" cy="451.4" rx="1.7" ry="1.6"/>
<ellipse cx="616.8" cy="477.6" rx="1.7" ry="1.6"/>
<ellipse cx="636.6" cy="557.8" rx="1.7" ry="1.6"/>
<ellipse cx="427" cy="661.4" rx="1.7" ry="1.6"/>
<ellipse cx="434" cy="664.2" rx="1.7" ry="1.6"/>
<ellipse cx="441" cy="658.6" rx="1.7" ry="1.6"/>
<ellipse cx="441" cy="664.2" rx="1.7" ry="1.6"/>
<ellipse cx="447.8" cy="661.6" rx="1.7" ry="1.6"/>
<ellipse cx="455" cy="662.8" rx="1.7" ry="1.6"/>
<ellipse cx="455" cy="667" rx="1.7" ry="1.6"/>
<ellipse cx="468.8" cy="664.2" rx="1.7" ry="1.6"/>
<ellipse cx="476" cy="664.2" rx="1.7" ry="1.6"/>
<ellipse cx="483" cy="602" rx="1.7" ry="1.6"/>
<ellipse cx="483" cy="652.8" rx="1.7" ry="1.6"/>
<ellipse cx="483" cy="658.6" rx="1.7" ry="1.6"/>
<ellipse cx="483" cy="664.2" rx="1.7" ry="1.6"/>
<ellipse cx="489.8" cy="644.4" rx="1.7" ry="1.6"/>
<ellipse cx="497" cy="650.4" rx="1.7" ry="1.6"/>
<ellipse cx="497" cy="657.2" rx="1.7" ry="1.6"/>
<ellipse cx="504" cy="644.4" rx="1.7" ry="1.6"/>
<ellipse cx="504" cy="646.8" rx="1.7" ry="1.6"/>
<ellipse cx="511" cy="650.2" rx="1.7" ry="1.6"/>
<ellipse cx="511" cy="658.6" rx="1.7" ry="1.6"/>
<ellipse cx="518" cy="621.8" rx="1.7" ry="1.6"/>
<ellipse cx="518" cy="641.6" rx="1.7" ry="1.6"/>
<ellipse cx="518" cy="659.6" rx="1.7" ry="1.6"/>
<ellipse cx="518" cy="664.2" rx="1.7" ry="1.6"/>
<ellipse cx="525" cy="635.6" rx="1.7" ry="1.6"/>
<ellipse cx="532" cy="633.2" rx="1.7" ry="1.6"/>
<ellipse cx="532" cy="635.8" rx="1.7" ry="1.6"/>
<ellipse cx="546.2" cy="641.6" rx="1.7" ry="1.6"/>
<ellipse cx="634.4" cy="569.4" rx="1.7" ry="1.6"/>
<ellipse cx="621.2" cy="635.8" rx="1.7" ry="1.6"/>
<ellipse cx="638.8" cy="661.4" rx="1.7" ry="1.6"/>
<ellipse cx="560" cy="655" rx="1.7" ry="1.6"/>
<ellipse cx="567" cy="656" rx="1.7" ry="1.6"/>
<ellipse cx="560" cy="658.4" rx="1.7" ry="1.6"/>
</g>
<g fill="#10c810">
<ellipse cx="503.8" cy="406" rx="1.7" ry="1.6"/>
<ellipse cx="483" cy="422" rx="1.7" ry="1.6"/>
<ellipse cx="525" cy="505.8" rx="1.7" ry="1.6"/>
<ellipse cx="517.8" cy="520" rx="1.7" ry="1.6"/>
<ellipse cx="532" cy="554" rx="1.7" ry="1.6"/>
<ellipse cx="497" cy="556.6" rx="1.7" ry="1.6"/>
<ellipse cx="503.8" cy="562.4" rx="1.7" ry="1.6"/>
<ellipse cx="641" cy="459" rx="1.7" ry="1.6"/>
<ellipse cx="636.6" cy="466" rx="1.7" ry="1.6"/>
<ellipse cx="634.4" cy="503" rx="1.7" ry="1.6"/>
<ellipse cx="427" cy="658.6" rx="1.7" ry="1.6"/>
<ellipse cx="434" cy="661.6" rx="1.7" ry="1.6"/>
<ellipse cx="441" cy="660.4" rx="1.7" ry="1.6"/>
<ellipse cx="441" cy="667" rx="1.7" ry="1.6"/>
<ellipse cx="447.8" cy="664.2" rx="1.7" ry="1.6"/>
<ellipse cx="455" cy="661.6" rx="1.7" ry="1.6"/>
<ellipse cx="455" cy="664.2" rx="1.7" ry="1.6"/>
<ellipse cx="468.8" cy="590.6" rx="1.7" ry="1.6"/>
<ellipse cx="468.8" cy="655.8" rx="1.7" ry="1.6"/>
<ellipse cx="468.8" cy="661.6" rx="1.7" ry="1.6"/>
<ellipse cx="468.8" cy="667" rx="1.7" ry="1.6"/>
<ellipse cx="476" cy="630.2" rx="1.7" ry="1.6"/>
<ellipse cx="483" cy="585" rx="1.7" ry="1.6"/>
<ellipse cx="483" cy="655.8" rx="1.7" ry="1.6"/>
<ellipse cx="483" cy="667" rx="1.7" ry="1.6"/>
<ellipse cx="489.8" cy="582.2" rx="1.7" ry="1.6"/>
<ellipse cx="489.8" cy="635.8" rx="1.7" ry="1.6"/>
<ellipse cx="497" cy="653" rx="1.7" ry="1.6"/>
<ellipse cx="504" cy="621.8" rx="1.7" ry="1.6"/>
<ellipse cx="504" cy="658" rx="1.7" ry="1.6"/>
<ellipse cx="504" cy="667" rx="1.7" ry="1.6"/>
<ellipse cx="511" cy="616.2" rx="1.7" ry="1.6"/>
<ellipse cx="511" cy="640.2" rx="1.7" ry="1.6"/>
<ellipse cx="518" cy="630.2" rx="1.7" ry="1.6"/>
<ellipse cx="518" cy="635.8" rx="1.7" ry="1.6"/>
<ellipse cx="518" cy="652" rx="1.7" ry="1.6"/>
<ellipse cx="532" cy="653" rx="1.7" ry="1.6"/>
<ellipse cx="546.2" cy="635.8" rx="1.7" ry="1.6"/>
<ellipse cx="638.8" cy="619" rx="1.7" ry="1.6"/>
<ellipse cx="616.8" cy="630.2" rx="1.7" ry="1.6"/>
<ellipse cx="621.2" cy="653" rx="1.7" ry="1.6"/>
<ellipse cx="628" cy="664.2" rx="1.7" ry="1.6"/>
<ellipse cx="658.6" cy="667" rx="1.7" ry="1.6"/>
<ellipse cx="560" cy="647.2" rx="1.7" ry="1.6"/>
<ellipse cx="567" cy="649.8" rx="1.7" ry="1.6"/>
<ellipse cx="560" cy="664.2" rx="1.7" ry="1.6"/>
<ellipse cx="553" cy="667" rx="1.7" ry="1.6"/>
</g>
</svg>
</body>
</html>
